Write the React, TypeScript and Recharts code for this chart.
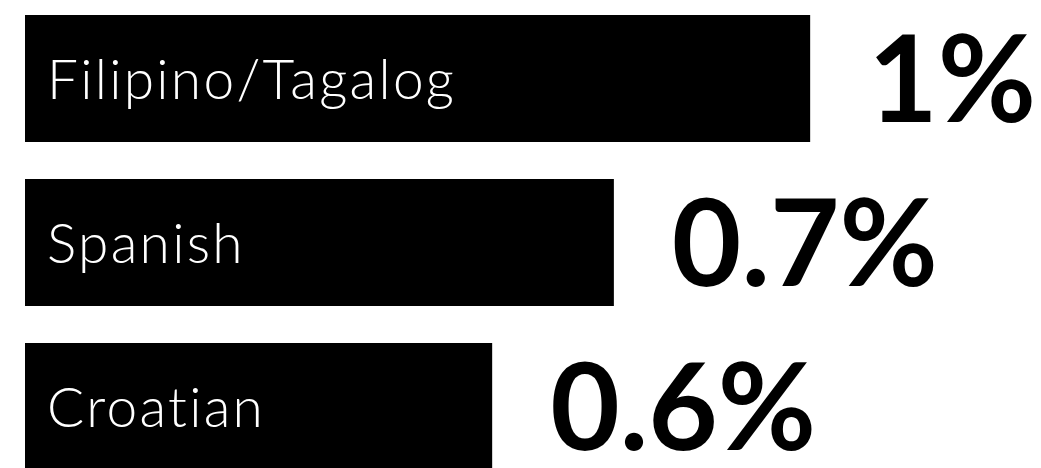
import { Bar, BarChart, XAxis, YAxis } from "recharts";

// languages spoken at home
const languages = ["Filipino/Tagalog", "Spanish", "Croatian"];
const shareLabels = ["1%", "0.7%", "0.6%"];
// drawn bar lengths (relative to the longest bar)
const barLengths = [1, 0.75, 0.595];

const data = languages.map((lang, i) => ({
  lang,
  length: barLengths[i],
  label: shareLabels[i],
}));

const NAME_FONT = "Lato, 'Open Sans', sans-serif";

function LangBar(props: any): React.JSX.Element {
  const { x, y, width, height, payload } = props;
  const cy = y + height / 2;
  return (
    <g>
      <rect x={x} y={y} width={width} height={height} fill="#000" />
      <text
        x={x + 22}
        y={cy + 20}
        fill="#fff"
        fontFamily={NAME_FONT}
        fontWeight={300}
        fontSize={55}
        letterSpacing={2.3}
        style={{ fontVariantLigatures: "none" }}
      >
        {payload.lang}
      </text>
      <text
        x={x + width + 58}
        y={cy + 43}
        fill="#000"
        fontFamily={NAME_FONT}
        fontWeight={700}
        fontSize={120}
      >
        {payload.label}
      </text>
    </g>
  );
}

export default function App(): React.JSX.Element {
  return (
    <div
      style={{
        position: "fixed",
        left: 0,
        top: 0,
        width: 1041,
        height: 468,
        overflow: "hidden",
        background: "#fff",
      }}
    >
      <div style={{ position: "absolute", left: 0, top: -4 }}>
        <BarChart
          layout="vertical"
          width={1041}
          height={492}
          data={data}
          margin={{ top: 0, right: 0, left: 25, bottom: 0 }}
        >
          <XAxis type="number" hide domain={[0, 1.294]} allowDataOverflow />
          <YAxis type="category" dataKey="lang" hide />
          <Bar dataKey="length" barSize={127} shape={LangBar} isAnimationActive={false} />
        </BarChart>
      </div>
    </div>
  );
}
